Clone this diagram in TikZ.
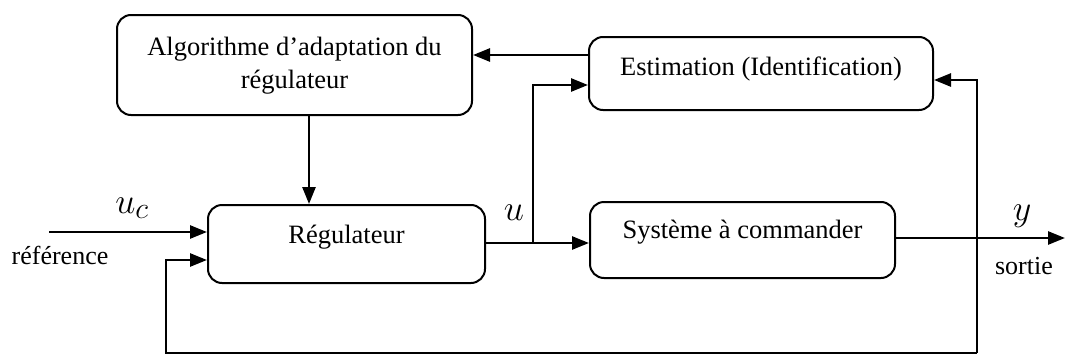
\documentclass[tikz,border=0pt]{standalone}
\usepackage{graphicx}
\usepackage{fontspec}
\setmainfont{Liberation Serif}
\usetikzlibrary{arrows.meta}
\newcommand{\mymathlbl}[1]{\scalebox{1.45}{$#1$}}
\begin{document}
\begin{tikzpicture}[x=1pt,y=-1pt,
  blk/.style={draw, line width=2pt, rounded corners=14pt, inner sep=0pt},
  txt/.style={anchor=base, inner sep=0pt, font=\fontsize{26.5}{33}\selectfont},
  lbl/.style={inner sep=0pt, font=\fontsize{26}{33}\selectfont},
  mth/.style={inner sep=0pt, font=\fontsize{24.88}{30}\selectfont},
  arr/.style={line width=2.6pt, -{Triangle[length=17pt,width=13pt]}}]
\useasboundingbox (0,0) rectangle (1065,356);
% boxes
\node[blk, minimum width=355pt, minimum height=100pt] (alg) at (294.5,65) {};
\node[txt] (algt1) at (294.5,55) {Algorithme d’adaptation du};
\node[txt] (algt2) at (294.5,88) {régulateur};
\node[blk, minimum width=344pt, minimum height=73pt] (est) at (761,73.5) {};
\node[txt] (estt) at (761,75) {Estimation (Identification)};
\node[blk, minimum width=277pt, minimum height=78pt] (reg) at (346.5,244) {};
\node[txt] (regt) at (346.5,243) {Régulateur};
\node[blk, minimum width=305pt, minimum height=76pt] (sys) at (742.5,240) {};
\node[txt] (syst) at (742.5,238) {Système à commander};
% coordinates
\coordinate (ucin) at (49,232);
\coordinate (xA) at (309,0);
\coordinate (ya) at (0,55);
\coordinate (ub) at (533,243);
\coordinate (ue) at (533,85);
\coordinate (yo) at (0,238);
\coordinate (yend) at (1065,238);
\coordinate (br) at (977,353);
\coordinate (bl) at (166,353);
\coordinate (fbin) at (166,260);
\coordinate (estin) at (977,80);
% connectors
\draw[arr] (est.west |- ya) -- (alg.east |- ya);
\draw[arr] (alg.south -| xA) -- (reg.north -| xA);
\draw[arr] (ucin) -- (reg.west |- ucin);
\draw[arr] (reg.east |- ub) -- (sys.west |- ub);
\draw[arr] (ub) -- (ue) -- (est.west |- ue);
\draw[arr] (sys.east |- yo) -- (yend);
\draw[arr] (br) -- (bl) -- (fbin) -- (reg.west |- fbin);
\draw[arr] (br) -- (estin) -- (est.east |- estin);
% labels
\node[mth] (uc) at (132,208) {\mymathlbl{u_c}};
\node[lbl] (ref) at (60,255) {référence};
\node[mth] (ul) at (514,213) {\mymathlbl{u}};
\node[mth] (yl) at (1022,216) {\mymathlbl{y}};
\node[lbl] (so) at (1024,266) {sortie};
\end{tikzpicture}
\end{document}
